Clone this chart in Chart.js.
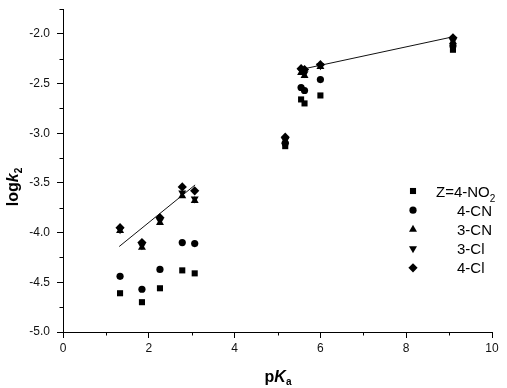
<!DOCTYPE html>
<html>
<head>
<meta charset="utf-8">
<script src="https://cdn.jsdelivr.net/npm/chart.js@4/dist/chart.umd.min.js"></script>
<style>
  html, body { margin: 0; padding: 0; background: #fff; }
  #wrap { width: 507px; height: 388px; }
</style>
</head>
<body>
<div id="wrap"><canvas id="c" width="507" height="388"></canvas></div>
<script>
// ---- data ----
const pKa = [1.33, 1.84, 2.26, 2.78, 3.07, 5.18, 5.55, 5.63, 6.0, 9.09];
const seriesNames = ['Z=4-NO2', '4-CN', '3-CN', '3-Cl', '4-Cl'];
const logk_4NO2 = [-4.61, -4.70, -4.56, -4.38, -4.41, -3.13, -2.66, -2.70, -2.62, -2.16];
const logk_4CN  = [-4.44, -4.57, -4.37, -4.10, -4.11, -3.10, -2.54, -2.57, -2.46, -2.12];
const logk_3CN  = [-3.98, -4.15, -3.90, -3.63, -3.68, -3.08, -2.39, -2.42, -2.33, -2.08];
const logk_3Cl  = [-3.97, -4.13, -3.88, -3.60, -3.66, -3.07, -2.37, -2.40, -2.32, -2.07];
const logk_4Cl  = [-3.95, -4.10, -3.85, -3.54, -3.58, -3.04, -2.35, -2.36, -2.31, -2.04];
const fit1X = [1.31, 3.08];
const fit1Y = [-4.14, -3.52];
const fit2X = [5.53, 9.09];
const fit2Y = [-2.36, -2.03];
const xTicks = [0, 2, 4, 6, 8, 10];
const yTicks = [-5.0, -4.5, -4.0, -3.5, -3.0, -2.5, -2.0];

const allSeries = [logk_4NO2, logk_4CN, logk_3CN, logk_3Cl, logk_4Cl];
const styles = [
  { pointStyle: 'rect', radius: 4.3, rotation: 0 },
  { pointStyle: 'circle', radius: 3.6, rotation: 0 },
  { pointStyle: 'triangle', radius: 4.6, rotation: 0 },
  { pointStyle: 'triangle', radius: 4.6, rotation: 180 },
  { pointStyle: 'rectRot', radius: 4.6, rotation: 0 }
];

const pts = (xs, ys) => xs.map((x, i) => ({ x: x, y: ys[i] }));

const datasets = allSeries.map((ys, i) => ({
  label: seriesNames[i],
  data: pts(pKa, ys),
  showLine: false,
  pointStyle: styles[i].pointStyle,
  pointRadius: styles[i].radius,
  pointRotation: styles[i].rotation,
  backgroundColor: '#000',
  borderColor: '#000',
  borderWidth: 0,
  order: 1
}));
[[fit1X, fit1Y], [fit2X, fit2Y]].forEach(([xs, ys]) => {
  datasets.push({
    label: 'fit',
    data: pts(xs, ys),
    showLine: true,
    pointRadius: 0,
    borderColor: '#111',
    borderWidth: 1,
    fill: false,
    order: 2
  });
});

function drawMarker(ctx, style, radius, rotation, x, y) {
  ctx.beginPath();
  const rad = (rotation || 0) * Math.PI / 180;
  if (style === 'rect') {
    const s = Math.SQRT1_2 * radius;
    ctx.rect(x - s, y - s, 2 * s, 2 * s);
  } else if (style === 'circle') {
    ctx.arc(x, y, radius, 0, Math.PI * 2);
  } else if (style === 'triangle') {
    let r = rad;
    ctx.moveTo(x + Math.sin(r) * radius, y - Math.cos(r) * radius);
    r += 2 * Math.PI / 3;
    ctx.lineTo(x + Math.sin(r) * radius, y - Math.cos(r) * radius);
    r += 2 * Math.PI / 3;
    ctx.lineTo(x + Math.sin(r) * radius, y - Math.cos(r) * radius);
    ctx.closePath();
  } else if (style === 'rectRot') {
    ctx.moveTo(x, y - radius);
    ctx.lineTo(x + radius, y);
    ctx.lineTo(x, y + radius);
    ctx.lineTo(x - radius, y);
    ctx.closePath();
  }
  ctx.fill();
}

function richWidth(ctx, segs) {
  let w = 0;
  segs.forEach(s => { ctx.font = s.font; w += ctx.measureText(s.text).width; });
  return w;
}
function drawRich(ctx, segs, x, y) {
  let cx = x;
  segs.forEach(s => {
    ctx.font = s.font;
    ctx.fillText(s.text, cx, y + (s.dy || 0));
    cx += ctx.measureText(s.text).width;
  });
}

const decor = {
  id: 'decor',
  afterDraw(chart) {
    const ctx = chart.ctx;
    const xs = chart.scales.x, ys = chart.scales.y;
    ctx.save();
    ctx.strokeStyle = '#000';
    ctx.fillStyle = '#000';
    ctx.lineWidth = 1;
    // minor ticks
    ctx.beginPath();
    [1, 3, 5, 7, 9].forEach(v => {
      const px = Math.round(xs.getPixelForValue(v)) + 0.5;
      ctx.moveTo(px, ys.bottom);
      ctx.lineTo(px, ys.bottom + 3.5);
    });
    [-4.75, -4.25, -3.75, -3.25, -2.75, -2.25, -1.75].forEach(v => {
      const py = Math.round(ys.getPixelForValue(v)) + 0.5;
      ctx.moveTo(xs.left - 3.5, py);
      ctx.lineTo(xs.left, py);
    });
    ctx.stroke();

    // legend
    ctx.textBaseline = 'alphabetic';
    ctx.textAlign = 'left';
    const lx = 413, ly0 = 191, step = 19.2;
    styles.forEach((st, i) => {
      const y = ly0 + i * step;
      drawMarker(ctx, st.pointStyle, st.radius, st.rotation, lx, y);
      const f = '15px "Liberation Sans", Arial, sans-serif';
      if (i === 0) {
        drawRich(ctx, [
          { text: 'Z=4-NO', font: f },
          { text: '2', font: '10px "Liberation Sans", Arial, sans-serif', dy: 5 }
        ], 436, y + 5.5);
      } else {
        ctx.font = f;
        ctx.fillText(seriesNames[i], 457, y + 5.5);
      }
    });

    // x title
    const xt = [
      { text: 'p', font: 'bold 16px "Liberation Sans", Arial, sans-serif' },
      { text: 'K', font: 'italic bold 16px "Liberation Sans", Arial, sans-serif' },
      { text: 'a', font: 'bold 10px "Liberation Sans", Arial, sans-serif', dy: 3 }
    ];
    const xw = richWidth(ctx, xt);
    drawRich(ctx, xt, 278 - xw / 2, 382);

    // y title
    const yt = [
      { text: 'log', font: 'bold 16px "Liberation Sans", Arial, sans-serif' },
      { text: 'k', font: 'italic bold 16px "Liberation Sans", Arial, sans-serif' },
      { text: '2', font: 'bold 10px "Liberation Sans", Arial, sans-serif', dy: 4 }
    ];
    const yw = richWidth(ctx, yt);
    ctx.translate(18, 187);
    ctx.rotate(-Math.PI / 2);
    drawRich(ctx, yt, -yw / 2, 0);
    ctx.restore();
  }
};

new Chart(document.getElementById('c'), {
  type: 'scatter',
  data: { datasets: datasets },
  options: {
    responsive: false,
    animation: false,
    layout: { padding: { top: 9, right: 15, left: 0, bottom: 0 } },
    plugins: { legend: { display: false }, tooltip: { enabled: false } },
    scales: {
      x: {
        type: 'linear', min: 0, max: 10,
        afterBuildTicks: s => { s.ticks = xTicks.map(v => ({ value: v })); },
        ticks: { font: { size: 12, family: '"Liberation Sans", Arial, sans-serif' }, color: '#111', padding: 3, maxRotation: 0,
                 callback: v => String(v) },
        grid: { display: true, drawOnChartArea: false, drawTicks: true, tickLength: 6, color: '#000' },
        border: { display: true, color: '#000', width: 1 },
        afterFit: s => { s.height = 56; s.paddingLeft = 0; s.paddingRight = 0; }
      },
      y: {
        type: 'linear', min: -5, max: -1.75,
        afterBuildTicks: s => { s.ticks = yTicks.map(v => ({ value: v })); },
        ticks: { font: { size: 12, family: '"Liberation Sans", Arial, sans-serif' }, color: '#111', padding: 7,
                 callback: v => Number(v).toFixed(1) },
        grid: { display: true, drawOnChartArea: false, drawTicks: true, tickLength: 6, color: '#000' },
        border: { display: true, color: '#000', width: 1 },
        afterFit: s => { s.width = 63; s.paddingTop = 0; s.paddingBottom = 0; }
      }
    }
  },
  plugins: [decor]
});
</script>
</body>
</html>
